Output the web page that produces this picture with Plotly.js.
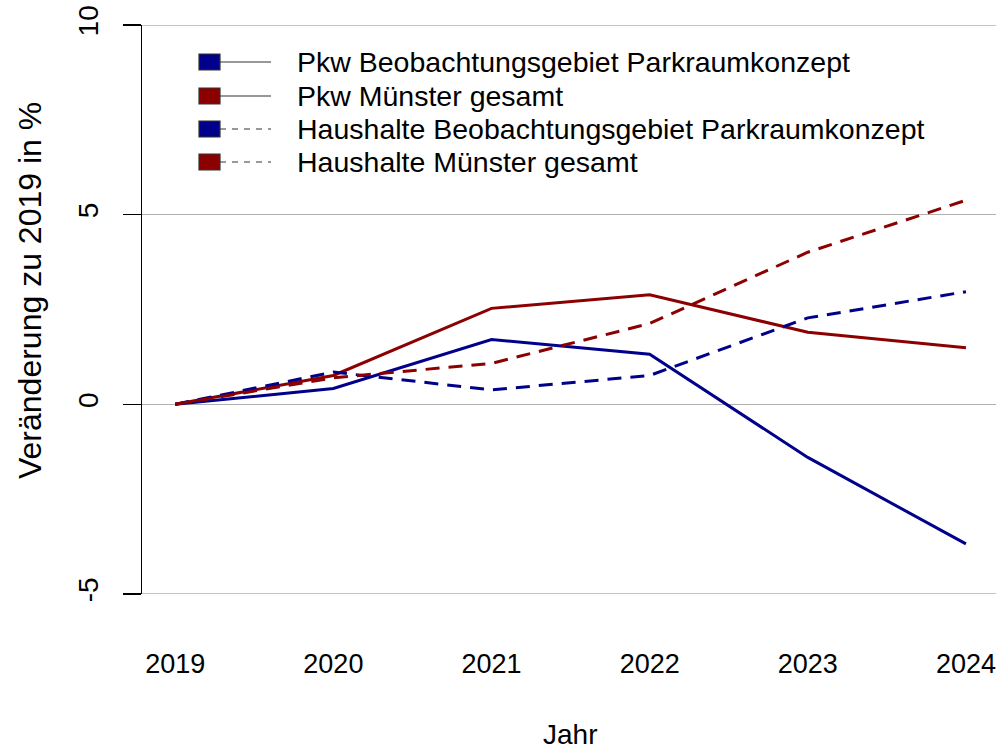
<!DOCTYPE html>
<html>
<head>
<meta charset="utf-8">
<script src="https://cdn.plot.ly/plotly-3.0.1.min.js"></script>
<style>html,body{margin:0;padding:0;background:#fff;}#chart{width:996px;height:749px;}</style>
</head>
<body>
<div id="chart"></div>
<script>
const years = [2019, 2020, 2021, 2022, 2023, 2024];
const pkwBeob = [0, 0.42, 1.71, 1.32, -1.40, -3.68];
const pkwMuenster = [0, 0.76, 2.53, 2.89, 1.90, 1.49];
const hhBeob = [0, 0.85, 0.38, 0.76, 2.28, 2.97];
const hhMuenster = [0, 0.70, 1.08, 2.13, 4.01, 5.38];
const seriesNames = [
  "Pkw Beobachtungsgebiet Parkraumkonzept",
  "Pkw Münster gesamt",
  "Haushalte Beobachtungsgebiet Parkraumkonzept",
  "Haushalte Münster gesamt"
];
const yTicks = [-5, 0, 5, 10];

const BLUE = "#00008B", RED = "#8B0000";
const FONT = "Liberation Sans, Arial, sans-serif";
const dashPat = "14px,9px";
const GRID = "#b0b0b0";

const series = [
  {y: pkwBeob, color: BLUE, dash: "solid"},
  {y: pkwMuenster, color: RED, dash: "solid"},
  {y: hhBeob, color: BLUE, dash: dashPat},
  {y: hhMuenster, color: RED, dash: dashPat}
];

const traces = series.map((s, i) => ({
  x: years, y: s.y, name: seriesNames[i], type: "scatter", mode: "lines",
  line: {color: s.color, width: 3, dash: s.dash}, showlegend: false, hoverinfo: "skip"
}));

const W = 996, H = 749, mL = 142, mR = 0, mT = 25, mB = 155;
const pw = W - mL - mR, ph = H - mT - mB;
const px = x => (x - mL) / pw;
const py = y => (H - mB - y) / ph;
const shapes = [];
const annotations = [];

// gridlines at range edges (plotly omits them)
[yTicks[0], yTicks[yTicks.length - 1]].forEach(v => {
  shapes.push({type: "line", xref: "paper", yref: "y", x0: 0, x1: 1, y0: v, y1: v,
    layer: "below", line: {color: GRID, width: 1.5}});
});

// custom legend (R style: filled box + line)
const rowY = [62, 96, 129, 162];
series.forEach((s, i) => {
  const yc = rowY[i];
  shapes.push({type: "line", xref: "paper", yref: "paper", x0: px(220), x1: px(271), y0: py(yc), y1: py(yc),
    line: {color: "#333", width: 1.2, dash: s.dash === "solid" ? "solid" : "6px,6px"}});
  shapes.push({type: "rect", xref: "paper", yref: "paper", x0: px(199), x1: px(220), y0: py(yc - 8), y1: py(yc + 8),
    fillcolor: s.color, line: {color: "#333", width: 1.2}});
  annotations.push({xref: "paper", yref: "paper", x: px(295), y: py(yc), xanchor: "left", yanchor: "middle",
    text: seriesNames[i], showarrow: false, font: {family: FONT, size: 28.5, color: "#000"}});
});
annotations.push({xref: "paper", yref: "paper", x: px(570), y: py(734), xanchor: "center", yanchor: "middle",
  text: "Jahr", showarrow: false, font: {family: FONT, size: 28, color: "#000"}});
annotations.push({xref: "paper", yref: "paper", x: px(30), y: py(291), xanchor: "center", yanchor: "middle",
  text: "Veränderung zu 2019 in %", textangle: -90, showarrow: false, font: {family: FONT, size: 32, color: "#000"}});

const layout = {
  width: W, height: H,
  margin: {l: mL, r: mR, t: mT, b: mB, pad: 0},
  paper_bgcolor: "#fff", plot_bgcolor: "#fff",
  font: {family: FONT, size: 27, color: "#000"},
  xaxis: {
    range: [2018.79, 2024.19], tickvals: years, ticktext: years.map(String),
    showgrid: false, zeroline: false, showline: false, ticks: "",
    ticklabelstandoff: 51, tickfont: {family: FONT, size: 27, color: "#000"}
  },
  yaxis: {
    range: [-5, 10], tickvals: yTicks, ticktext: yTicks.map(String),
    showgrid: true, gridcolor: GRID, gridwidth: 1.5, zeroline: false,
    showline: true, linecolor: "#000", linewidth: 1.5,
    ticks: "outside", ticklen: 18, tickcolor: "#000", tickwidth: 1.5,
    tickangle: -90, ticklabelstandoff: 13, tickfont: {family: FONT, size: 28, color: "#000"}
  },
  shapes: shapes,
  annotations: annotations
};

Plotly.newPlot("chart", traces, layout, {displayModeBar: false, staticPlot: true});
</script>
</body>
</html>
